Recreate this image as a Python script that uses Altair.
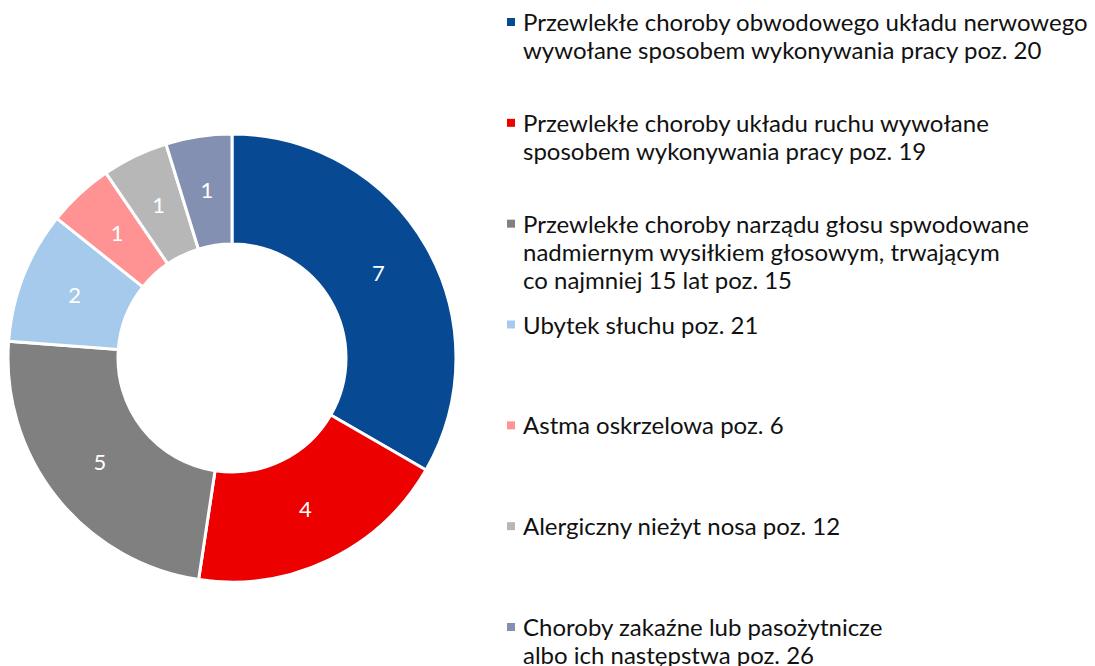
import altair as alt
import pandas as pd

categories = [
    "Przewlekłe choroby obwodowego układu nerwowego\nwywołane sposobem wykonywania pracy poz. 20",
    "Przewlekłe choroby układu ruchu wywołane\nsposobem wykonywania pracy poz. 19",
    "Przewlekłe choroby narządu głosu spwodowane\nnadmiernym wysiłkiem głosowym, trwającym\nco najmniej 15 lat poz. 15",
    "Ubytek słuchu poz. 21",
    "Astma oskrzelowa poz. 6",
    "Alergiczny nieżyt nosa poz. 12",
    "Choroby zakaźne lub pasożytnicze\nalbo ich następstwa poz. 26",
]
values = [7, 4, 5, 2, 1, 1, 1]
colors = ["#074A93", "#EC0000", "#808080", "#A6CAEC", "#FF9393", "#B7B7B7", "#8490B2"]

df = pd.DataFrame({
    "cat": categories,
    "value": values,
    "idx": list(range(len(values))),
})

FONT = "Lato"
color = alt.Color("cat:N", scale=alt.Scale(domain=categories, range=colors), legend=None)
base = alt.Chart(df)

arcs = base.mark_arc(stroke="white", strokeWidth=3, radius=224, radius2=114).encode(
    theta=alt.Theta("value:Q", stack=True),
    order=alt.Order("idx:Q"),
    color=color,
    x=alt.value(224),
    y=alt.value(350),
)

arc_labels = base.mark_text(radius=169, fontSize=22, font=FONT, color="white").encode(
    theta=alt.Theta("value:Q", stack=True),
    order=alt.Order("idx:Q"),
    text=alt.Text("value:Q"),
    x=alt.value(224),
    y=alt.value(350),
)

ypos = alt.Y("cat:N", scale=alt.Scale(type="point", domain=categories, range=[14, 619], padding=0), axis=None)

legend_sq = base.mark_square(size=64, opacity=1).encode(
    x=alt.value(503),
    y=ypos,
    color=color,
)

legend_txt = base.mark_text(
    align="left", baseline="alphabetic", dy=9, fontSize=24, font=FONT,
    color="#111111", lineBreak="\n", lineHeight=28,
).encode(
    x=alt.value(515),
    y=ypos,
    text="cat:N",
)

chart = alt.layer(arcs, arc_labels, legend_sq, legend_txt).properties(
    width=1079, height=658, padding=0,
    autosize=alt.AutoSizeParams(type="none"),
).configure_view(strokeWidth=0)

chart.save("out.html", embed_options={"renderer": "svg", "actions": False})
